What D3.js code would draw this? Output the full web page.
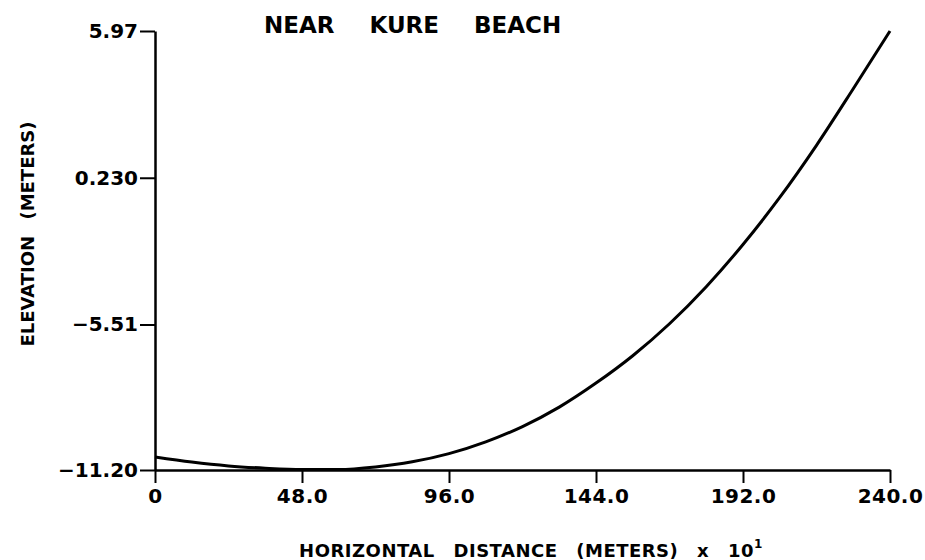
<!DOCTYPE html>
<html>
<head>
<meta charset="utf-8">
<script src="https://cdn.jsdelivr.net/npm/d3@7"></script>
<style>
  body { margin: 0; background: #fff; }
  text { font-family: "DejaVu Sans", sans-serif; font-weight: bold; fill: #000; }
</style>
</head>
<body>
<div id="chart"></div>
<script>
// profile (distance in m x 10, elevation in m)
var distance = [0, 12, 24, 36, 48, 60, 72, 84, 96, 108, 120, 132, 144, 156, 168, 180, 192, 204, 216, 228, 240];
var elevation = [-10.69, -10.89, -11.04, -11.13, -11.18, -11.18, -11.08, -10.88, -10.56, -10.10, -9.50,
                 -8.74, -7.80, -6.73, -5.48, -4.03, -2.38, -0.54, 1.50, 3.71, 5.97];

var xTicks = [0, 48, 96, 144, 192, 240];
var xTickLabels = ["0", "48.0", "96.0", "144.0", "192.0", "240.0"];
var yTicks = [5.97, 0.23, -5.51, -11.20];
var yTickLabels = ["5.97", "0.230", "\u22125.51", "\u221211.20"];

var width = 925, height = 560;
var margin = {top: 31, right: 35, bottom: 90, left: 155};

var svg = d3.select("#chart")
    .append("svg")
    .attr("width", width)
    .attr("height", height);

var x = d3.scaleLinear()
    .domain([0, 240])
    .range([margin.left, width - margin.right]);

var y = d3.scaleLinear()
    .domain([-11.20, 5.97])
    .range([height - margin.bottom, margin.top]);

// x axis
svg.append("g")
    .attr("class", "xaxis")
    .attr("transform", "translate(0," + (height - margin.bottom) + ")")
    .call(d3.axisBottom(x)
        .tickValues(xTicks)
        .tickFormat((d, i) => xTickLabels[i])
        .tickSize(13)
        .tickSizeOuter(0)
        .tickPadding(6));

// y axis
svg.append("g")
    .attr("class", "yaxis")
    .attr("transform", "translate(" + margin.left + ",0)")
    .call(d3.axisLeft(y)
        .tickValues(yTicks)
        .tickFormat((d, i) => yTickLabels[i])
        .tickSize(15)
        .tickSizeOuter(0)
        .tickPadding(2));

svg.selectAll(".domain").attr("stroke", "#000").attr("stroke-width", 2.5);
svg.selectAll(".tick line").attr("stroke", "#000").attr("stroke-width", 2);
svg.selectAll(".tick text")
    .style("font-family", "DejaVu Sans")
    .style("font-weight", "bold")
    .style("font-size", "20px")
    .attr("fill", "#000");
svg.selectAll(".xaxis .tick text").style("letter-spacing", "0.5px");

// the profile curve
var line = d3.line()
    .x((d, i) => x(distance[i]))
    .y(d => y(d))
    .curve(d3.curveMonotoneX);

svg.append("path")
    .datum(elevation)
    .attr("fill", "none")
    .attr("stroke", "#000")
    .attr("stroke-width", 3)
    .attr("d", line);

// title
svg.append("text")
    .attr("x", 264)
    .attr("y", 33)
    .style("font-size", "23px")
    .style("word-spacing", "27px")
    .text("NEAR KURE BEACH");

// axis labels
var xLabel = svg.append("text")
    .attr("x", 531)
    .attr("y", 557)
    .attr("text-anchor", "middle")
    .style("font-size", "18px")
    .style("letter-spacing", "0.5px")
    .style("word-spacing", "12px");
xLabel.append("tspan").text("HORIZONTAL DISTANCE (METERS) x 10");
xLabel.append("tspan")
    .attr("dy", -9)
    .style("font-size", "12px")
    .text("1");

svg.append("text")
    .attr("transform", "translate(34,234) rotate(-90)")
    .attr("text-anchor", "middle")
    .style("font-size", "18px")
    .style("word-spacing", "10px")
    .text("ELEVATION (METERS)");
</script>
</body>
</html>
